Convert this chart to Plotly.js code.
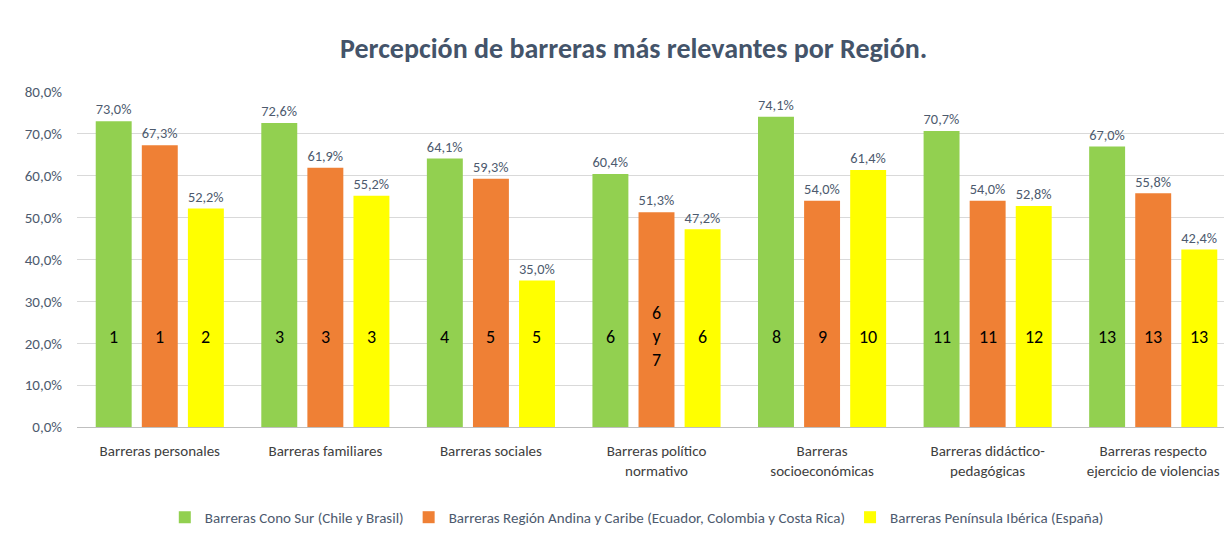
<!DOCTYPE html>
<html>
<head>
<meta charset="utf-8">
<script src="https://cdn.plot.ly/plotly-3.0.1.min.js"></script>
<style>
html,body{margin:0;padding:0;overflow:hidden;background:#fff;}
#chart{width:1240px;height:539px;}
</style>
</head>
<body>
<div id="chart"></div>
<script>
const categories = [
  "Barreras personales",
  "Barreras familiares",
  "Barreras sociales",
  "Barreras político<br>normativo",
  "Barreras<br>socioeconómicas",
  "Barreras didáctico-<br>pedagógicas",
  "Barreras respecto<br>ejercicio de violencias"
];
const seriesNames = [
  "Barreras Cono Sur (Chile y Brasil)",
  "Barreras Región Andina y Caribe (Ecuador, Colombia y Costa Rica)",
  "Barreras Península Ibérica (España)"
];
const conoSur = [0.730, 0.726, 0.641, 0.604, 0.741, 0.707, 0.670];
const andina = [0.673, 0.619, 0.593, 0.513, 0.540, 0.540, 0.558];
const iberica = [0.522, 0.552, 0.350, 0.472, 0.614, 0.528, 0.424];
const rankConoSur = ["1", "3", "4", "6", "8", "11", "13"];
const rankAndina = ["1", "3", "5", "6<br>y<br>7", "9", "11", "13"];
const rankIberica = ["2", "3", "5", "6", "10", "12", "13"];

const FONT = "Calibri, Carlito, 'Liberation Sans Narrow', 'DejaVu Sans Condensed', Lato, sans-serif";
const colors = ["#92D050", "#EF8035", "#FFFF00"];
const seriesVals = [conoSur, andina, iberica];
const ranks = [rankConoSur, rankAndina, rankIberica];

const traces = seriesVals.map((vals, i) => ({
  type: "bar",
  name: seriesNames[i],
  x: categories,
  y: vals,
  marker: {color: colors[i]},
  texttemplate: "%{y:.1%}",
  textposition: "outside",
  cliponaxis: false,
  textfont: {family: FONT, size: 15, color: "#4D5A6E"},
  hoverinfo: "x+y+name"
}));

const groupOffsets = [-46, 0, 46];
const annotations = [];
ranks.forEach((r, i) => {
  r.forEach((t, j) => {
    annotations.push({
      x: categories[j], y: 0.215, xref: "x", yref: "y",
      text: t, showarrow: false, xshift: groupOffsets[i],
      font: {family: FONT, size: 18, color: "#000000"}
    });
  });
});

const layout = {
  width: 1240, height: 539,
  margin: {l: 77, r: 4, t: 92, b: 112},
  paper_bgcolor: "#ffffff",
  plot_bgcolor: "#ffffff",
  font: {family: FONT, size: 15, color: "#4D5A6E"},
  separators: ",.",
  title: {
    text: "<b>Percepción de barreras más relevantes por Región.</b>",
    x: 0.511, xanchor: "center", y: 0.91, yanchor: "middle",
    font: {family: FONT, size: 28, color: "#44546A"}
  },
  barmode: "group",
  bargap: 0.165,
  bargroupgap: 0.22,
  xaxis: {
    type: "category",
    tickfont: {family: FONT, size: 15, color: "#404040"},
    showgrid: false, showline: false, ticks: "",
    ticklabelstandoff: 13,
    automargin: false
  },
  yaxis: {
    range: [0, 0.8],
    dtick: 0.1,
    tickformat: ".1%",
    tickfont: {family: FONT, size: 15, color: "#4D5A6E"},
    gridcolor: "#D9D9D9", gridwidth: 1,
    zeroline: true, zerolinecolor: "#BFBFBF", zerolinewidth: 1,
    showline: false, ticks: "", ticklabelstandoff: 14,
    automargin: false
  },
  legend: {
    orientation: "h", x: 0.483, xanchor: "center", y: -0.27, yanchor: "middle",
    font: {family: FONT, size: 15, color: "#4D5A6E"},
    itemwidth: 30, tracegroupgap: 0
  },
  annotations: annotations,
  showlegend: true
};

Plotly.newPlot("chart", traces, layout, {displayModeBar: false, staticPlot: true});
</script>
</body>
</html>
